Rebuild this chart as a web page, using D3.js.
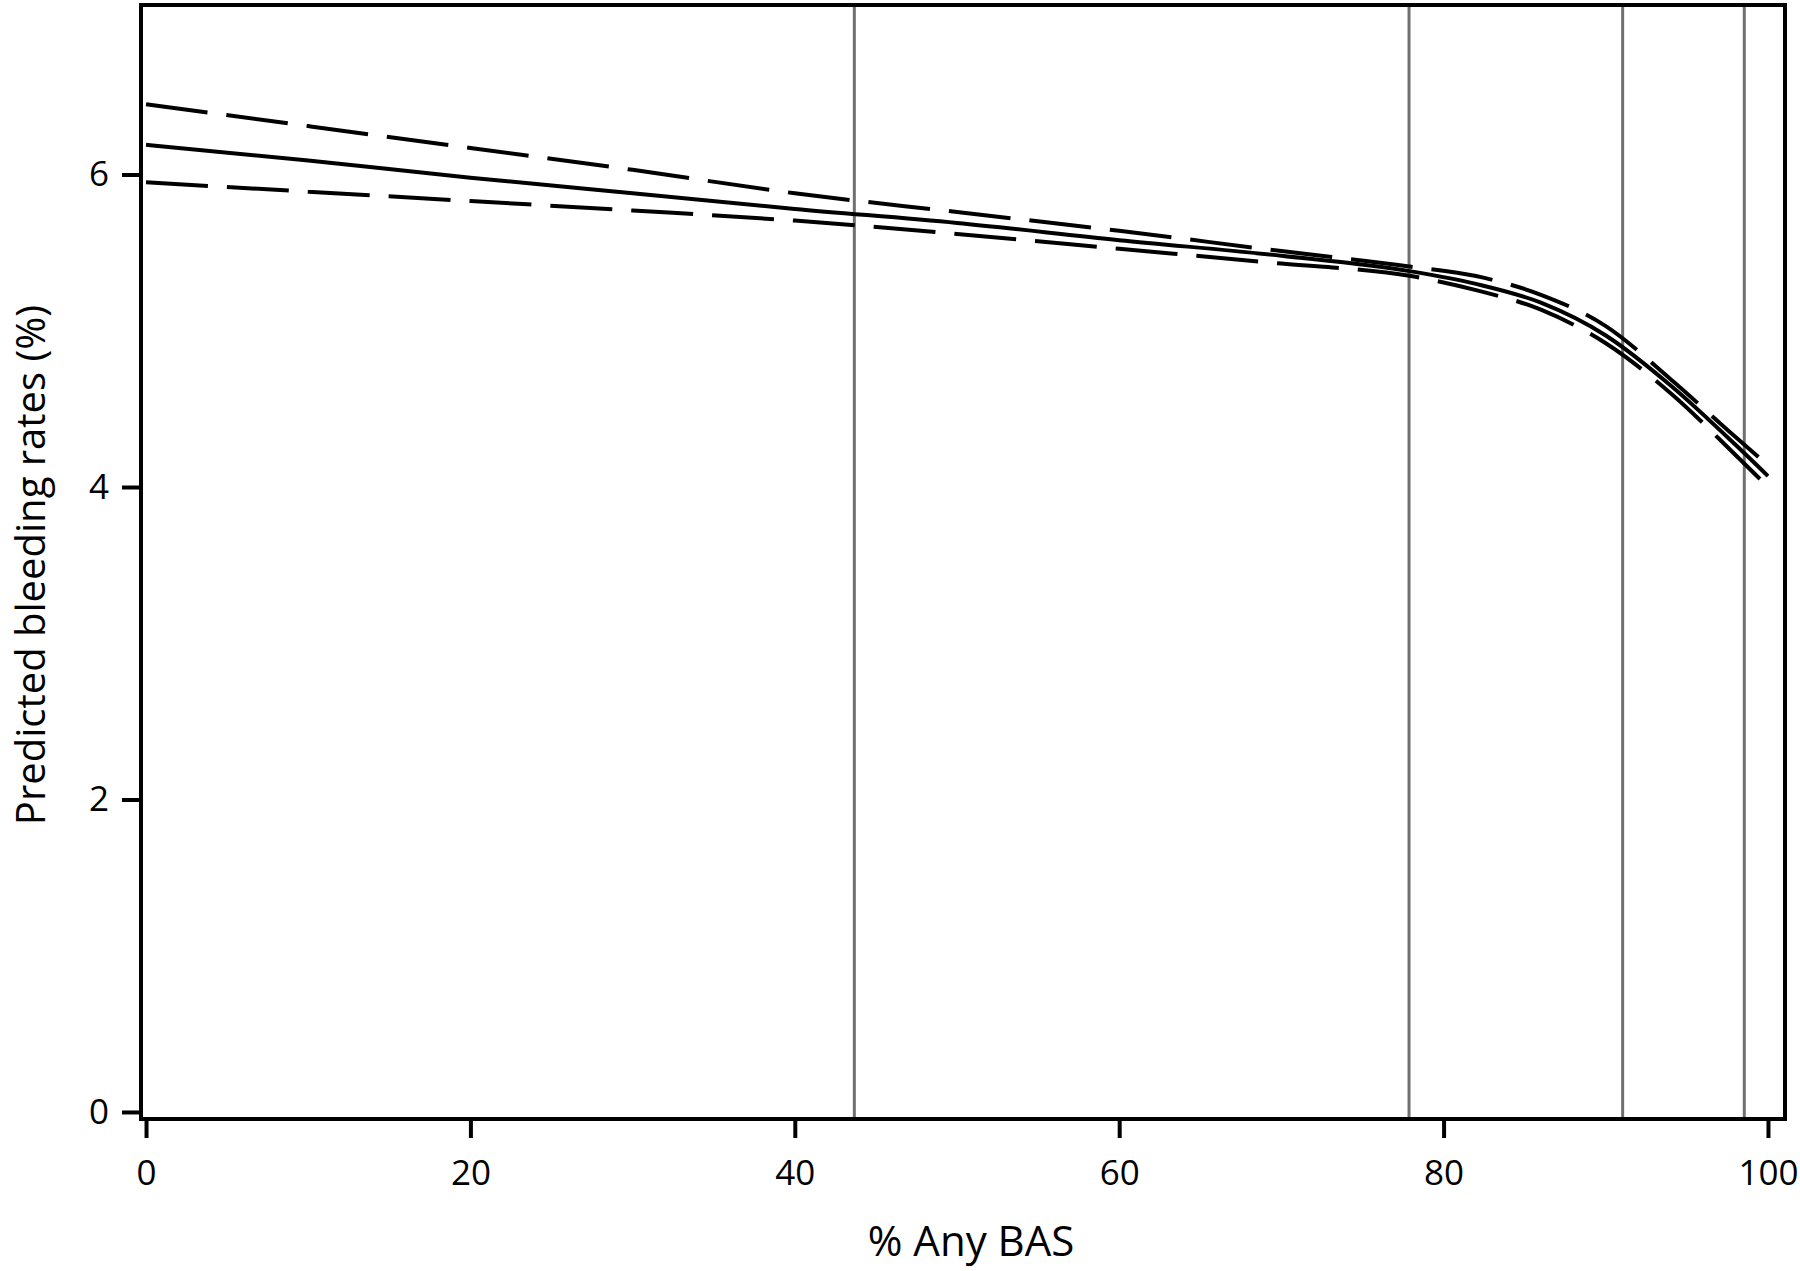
<!DOCTYPE html>
<html>
<head>
<meta charset="utf-8">
<script src="https://cdn.jsdelivr.net/npm/d3@7"></script>
<style>
  html, body { margin: 0; padding: 0; background: #fff; }
  svg { display: block; }
  text { font-family: "Open Sans", "Noto Sans", sans-serif; fill: #000; }
</style>
</head>
<body>
<svg id="chart" width="1800" height="1271"></svg>
<script>
// ---- data ----
const xValues   = [0, 10, 20, 30, 40, 50, 60, 70, 78, 82, 86, 90, 94, 98, 100];
const predicted = [6.19, 6.09, 5.98, 5.88, 5.78, 5.69, 5.58, 5.48, 5.38, 5.30, 5.18, 4.97, 4.65, 4.27, 4.07];
const upperCI   = [6.45, 6.31, 6.17, 6.03, 5.88, 5.76, 5.64, 5.51, 5.41, 5.35, 5.23, 5.03, 4.69, 4.32, 4.14];
const lowerCI   = [5.95, 5.89, 5.83, 5.77, 5.705, 5.62, 5.525, 5.43, 5.35, 5.26, 5.135, 4.92, 4.60, 4.205, 4.00];
const knots     = [43.67, 77.87, 91.04, 98.54];
const xTicks    = [0, 20, 40, 60, 80, 100];
const yTicks    = [0, 2, 4, 6];
const xTitle    = "% Any BAS";
const yTitle    = "Predicted bleeding rates (%)";

(function () {
// ---- layout ----
const svg = d3.select("#chart");
const mLeft = 141, mRight = 1785, mTop = 5, mBottom = 1119;

const x = d3.scaleLinear().domain([-0.31, 101.05]).range([mLeft, mRight]);
const y = d3.scaleLinear().domain([-0.045, 7.085]).range([mBottom, mTop]);

// knot reference lines
svg.append("g").selectAll("line").data(knots).join("line")
  .attr("x1", d => x(d)).attr("x2", d => x(d))
  .attr("y1", mTop).attr("y2", mBottom)
  .attr("stroke", "#707070").attr("stroke-width", 3);

// curves
const line = d3.line().x(d => x(d[0])).y(d => y(d[1])).curve(d3.curveMonotoneX);
const mk = arr => xValues.map((v, i) => [v, arr[i]]);

svg.append("path").datum(mk(upperCI))
  .attr("d", line).attr("fill", "none").attr("stroke", "#000")
  .attr("stroke-width", 4).attr("stroke-dasharray", "62 19");
svg.append("path").datum(mk(lowerCI))
  .attr("d", line).attr("fill", "none").attr("stroke", "#000")
  .attr("stroke-width", 4).attr("stroke-dasharray", "62 19");
svg.append("path").datum(mk(predicted))
  .attr("d", line).attr("fill", "none").attr("stroke", "#000")
  .attr("stroke-width", 4);

// frame
svg.append("rect")
  .attr("x", mLeft).attr("y", mTop)
  .attr("width", mRight - mLeft).attr("height", mBottom - mTop)
  .attr("fill", "none").attr("stroke", "#000").attr("stroke-width", 4);

// axes
const xAxis = d3.axisBottom(x).tickValues(xTicks).tickSize(19).tickPadding(22).tickFormat(d3.format("d"));
const gx = svg.append("g").attr("transform", `translate(0,${mBottom})`).call(xAxis);
gx.select(".domain").remove();
gx.selectAll(".tick line").attr("stroke", "#000").attr("stroke-width", 4);
gx.selectAll(".tick text").attr("font-size", 35).attr("fill", "#000")
  .style("font-family", "'Open Sans', 'Noto Sans', sans-serif");

const yAxis = d3.axisLeft(y).tickValues(yTicks).tickSize(19).tickPadding(13).tickFormat(d3.format("d"));
const gy = svg.append("g").attr("transform", `translate(${mLeft},0)`).call(yAxis);
gy.select(".domain").remove();
gy.selectAll(".tick line").attr("stroke", "#000").attr("stroke-width", 4);
gy.selectAll(".tick text").attr("font-size", 35).attr("fill", "#000")
  .style("font-family", "'Open Sans', 'Noto Sans', sans-serif");

// titles
svg.append("text")
  .attr("x", 971).attr("y", 1256)
  .attr("text-anchor", "middle").attr("font-size", 42)
  .text(xTitle);

svg.append("text")
  .attr("transform", "translate(45,565) rotate(-90)")
  .attr("text-anchor", "middle").attr("font-size", 40)
  .text(yTitle);
})();
</script>
</body>
</html>
